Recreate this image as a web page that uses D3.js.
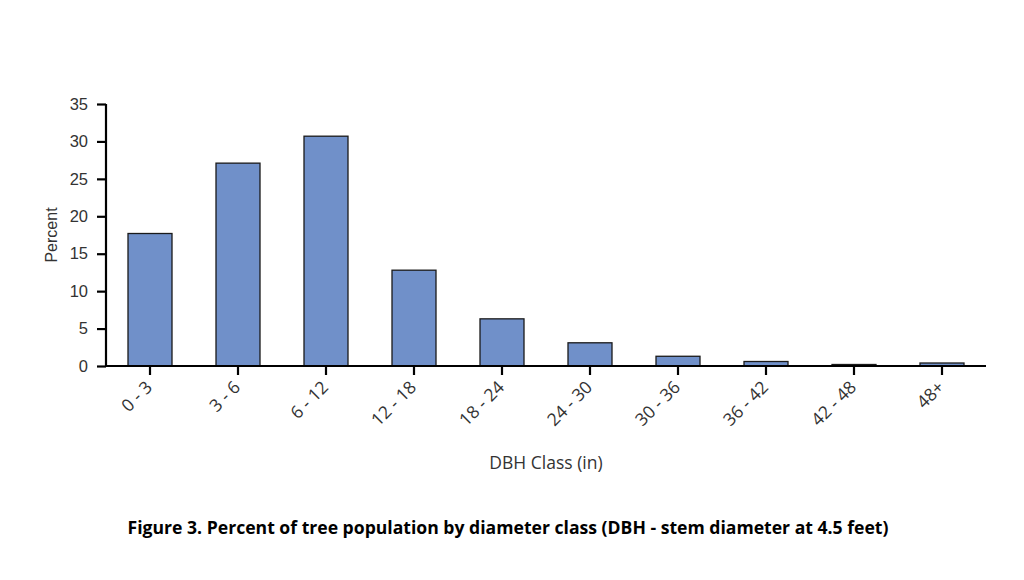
<!DOCTYPE html>
<html><head><meta charset="utf-8">
<script src="https://cdn.jsdelivr.net/npm/d3@7"></script>
<style>
body{margin:0;background:#fff;}
svg{display:block;}
</style></head>
<body><svg id="c" width="1024" height="580"></svg>
<script>
const categories = ["0 - 3","3 - 6","6 - 12","12 - 18","18 - 24","24 - 30","30 - 36","36 - 42","42 - 48","48+"];
const percentValues = [17.7, 27.1, 30.7, 12.8, 6.3, 3.1, 1.3, 0.6, 0.2, 0.4];
const yTicks = [0,5,10,15,20,25,30,35];
const titleText = "Figure 3. Percent of tree population by diameter class (DBH - stem diameter at 4.5 feet)";
const xLabel = "DBH Class (in)";
const yLabel = "Percent";

const svg = d3.select("#c");
const m = {left:106, right:1024-986, top:104, bottom:580-366};
const W = 1024, H = 580;
const x = d3.scaleBand().domain(categories).range([m.left, W-m.right]).paddingInner(0.5).paddingOuter(0.25);
const y = d3.scaleLinear().domain([0,35]).range([H-m.bottom, m.top]);

// bars
svg.append("g").selectAll("rect").data(percentValues).join("rect")
  .attr("x",(d,i)=>x(categories[i]))
  .attr("y",d=>y(d))
  .attr("width",x.bandwidth())
  .attr("height",d=>y(0)-y(d))
  .attr("fill","#7090c9")
  .attr("stroke","#1a1a1a")
  .attr("stroke-width",1.3);

// y axis
const ya = svg.append("g").attr("transform",`translate(${m.left},0)`)
  .call(d3.axisLeft(y).tickValues(yTicks).tickSize(9).tickPadding(9));
ya.select(".domain").attr("stroke","#000").attr("stroke-width",2.2).attr("d",`M0,${y(35)}V${y(0)}`);
ya.selectAll(".tick line").attr("stroke","#000").attr("stroke-width",2.2);
ya.selectAll(".tick text").attr("font-family","'Liberation Sans', Arial, sans-serif").attr("font-size",16.5).attr("fill","#333");

// x axis
const xa = svg.append("g").attr("transform",`translate(0,${y(0)})`)
  .call(d3.axisBottom(x).tickSize(9).tickPadding(6));
xa.select(".domain").attr("stroke","#000").attr("stroke-width",2.2).attr("d",`M${m.left-1},0H${W-m.right}`);
xa.selectAll(".tick line").attr("stroke","#000").attr("stroke-width",2.2);
xa.selectAll(".tick text")
  .attr("font-family","'Open Sans', sans-serif").attr("font-size",17.5).attr("fill","#333")
  .attr("text-anchor","end").attr("x",0).attr("y",0).attr("dy","0.35em")
  .attr("transform","translate(-1,18) rotate(-45)");

// axis titles
svg.append("text").attr("x",(m.left+W-m.right)/2).attr("y",469)
  .attr("text-anchor","middle").attr("font-family","'Open Sans', sans-serif").attr("font-size",17.5).attr("fill","#333")
  .text(xLabel);
svg.append("text").attr("transform",`translate(57,${(y(0)+y(35))/2}) rotate(-90)`)
  .attr("text-anchor","middle").attr("font-family","'Liberation Sans', Arial, sans-serif").attr("font-size",16).attr("fill","#333")
  .text(yLabel);

// figure title
svg.append("text").attr("x",508).attr("y",534)
  .attr("text-anchor","middle").attr("font-family","'Open Sans', sans-serif").attr("font-weight","bold").attr("font-size",17.6).attr("fill","#000")
  .text(titleText);
</script></body></html>
